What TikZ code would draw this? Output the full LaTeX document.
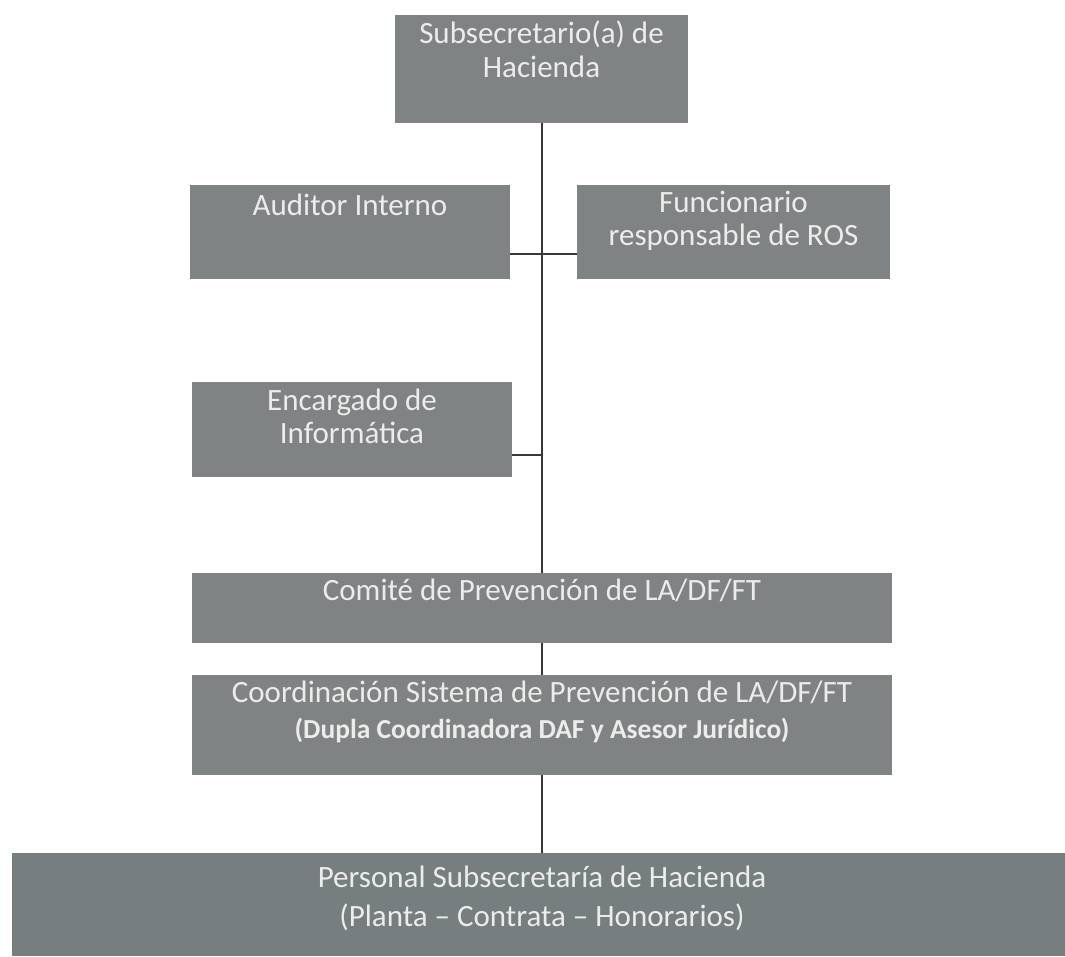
\documentclass[tikz,border=0pt]{standalone}
\usepackage{fontspec}
\setmainfont{Carlito}
\definecolor{boxgray}{RGB}{128,131,132}
\definecolor{basegray}{RGB}{118,126,127}
\definecolor{txtwhite}{RGB}{236,236,236}
\definecolor{linegray}{RGB}{55,55,55}
\tikzset{
  orgbox/.style={draw=none, fill=boxgray, rectangle, inner sep=0pt, anchor=north west},
  lbl/.style={anchor=base, text=txtwhite, inner sep=0pt, font=\fontsize{31}{36}\selectfont},
  lblb/.style={anchor=base, text=txtwhite, inner sep=0pt, font=\fontsize{27.5}{32}\selectfont\bfseries},
  conn/.style={draw=linegray, line width=1.6pt}
}
\begin{document}
\begin{tikzpicture}[x=1pt,y=-1pt]
\useasboundingbox[fill=white] (0,0) rectangle (1065,956);
% boxes
\node[orgbox, minimum width=293pt, minimum height=108pt] (top) at (395,15) {};
\node[orgbox, minimum width=320pt, minimum height=94pt] (aud) at (190,185) {};
\node[orgbox, minimum width=313pt, minimum height=94pt] (fun) at (577,185) {};
\node[orgbox, minimum width=320pt, minimum height=95pt] (enc) at (192,382) {};
\node[orgbox, minimum width=700pt, minimum height=70pt] (com) at (192,573) {};
\node[orgbox, minimum width=700pt, minimum height=100pt] (coo) at (192,675) {};
\node[orgbox, fill=basegray, minimum width=1053pt, minimum height=103pt] (per) at (12,853) {};
% texts
\node[lbl] (topA) at (541.5,43) {Subsecretario(a) de};
\node[lbl] (topB) at (541.5,77) {Hacienda};
\node[lbl] (audA) at (350,215) {Auditor Interno};
\node[lbl] (funA) at (733.5,212) {Funcionario};
\node[lbl] (funB) at (733.5,245) {responsable de ROS};
\node[lbl] (encA) at (352,410) {Encargado de};
\node[lbl] (encB) at (352,443) {Informática};
\node[lbl] (comA) at (542,600) {Comité de Prevención de LA/DF/FT};
\node[lbl] (cooA) at (542,702) {Coordinación Sistema de Prevención de LA/DF/FT};
\node[lblb] (cooB) at (542,738) {(Dupla Coordinadora DAF y Asesor Jurídico)};
\node[lbl] (perA) at (542,887) {Personal Subsecretaría de Hacienda};
\node[lbl] (perB) at (542,926) {(Planta – Contrata – Honorarios)};
% connectors
\coordinate (jA) at (542,254);
\coordinate (jE) at (542,455);
\draw[conn] (top.south -| jA) -- (com.north -| jA);
\draw[conn] (jA -| aud.east) -- (jA -| fun.west);
\draw[conn] (jE -| enc.east) -- (jE);
\draw[conn] (com.south -| jA) -- (coo.north -| jA);
\draw[conn] (coo.south -| jA) -- (per.north -| jA);
\end{tikzpicture}
\end{document}
